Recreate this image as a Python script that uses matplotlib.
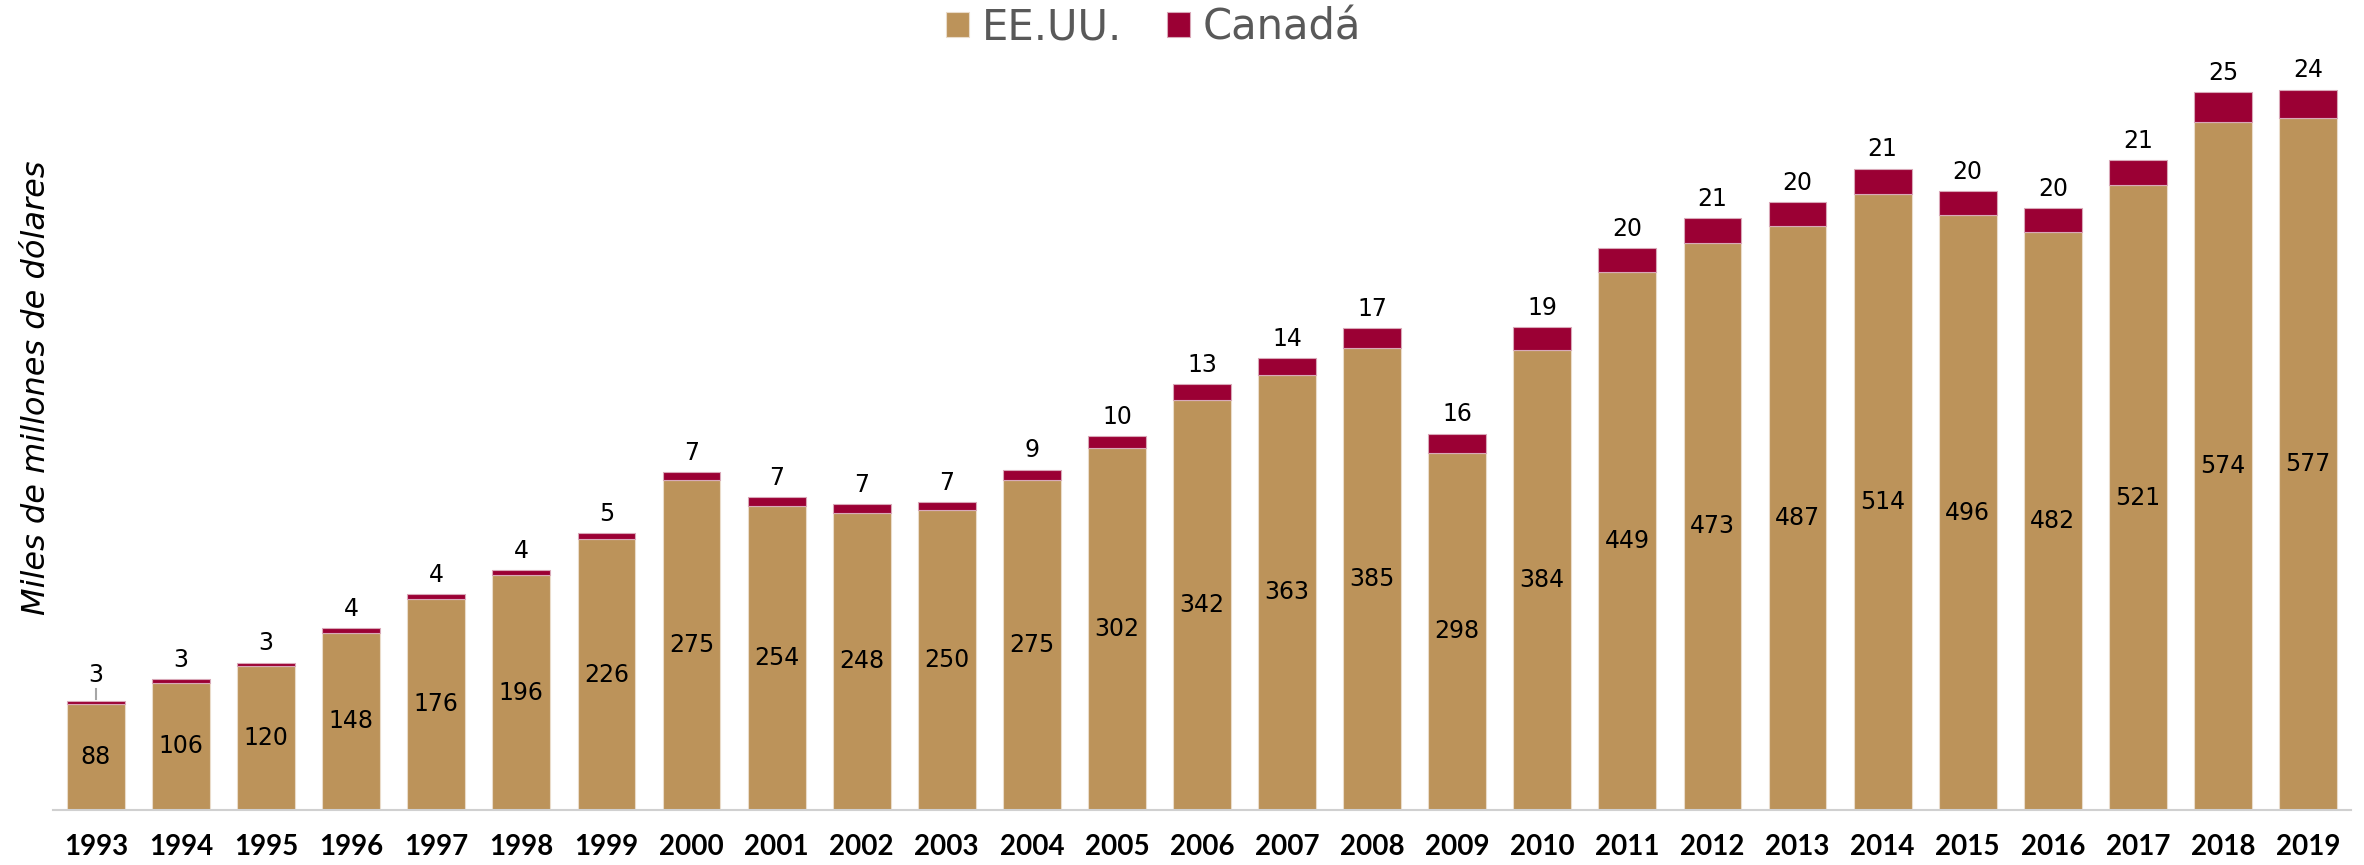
import matplotlib
matplotlib.use("Agg")
import matplotlib.pyplot as plt
import numpy as np

years = [str(y) for y in range(1993, 2020)]
usa = [88, 106, 120, 148, 176, 196, 226, 275, 254, 248, 250, 275, 302, 342,
       363, 385, 298, 384, 449, 473, 487, 514, 496, 482, 521, 574, 577]
canada = [3, 3, 3, 4, 4, 4, 5, 7, 7, 7, 7, 9, 10, 13,
          14, 17, 16, 19, 20, 21, 20, 21, 20, 20, 21, 25, 24]

c_usa = "#BC935A"
c_can = "#9B0034"

plt.rcParams["font.family"] = ["DejaVu Sans"]

fig = plt.figure(figsize=(23.64, 8.65), dpi=100)
ax = fig.add_axes([0.0226, 0.0636, 0.9717, 0.8786])

x = np.arange(len(years))
usa_a = np.array(usa)
can_a = np.array(canada)
b1 = ax.bar(x, usa_a, width=0.68, color=c_usa, edgecolor="#eadccb", linewidth=0.8, label="EE.UU.")
b2 = ax.bar(x, can_a, width=0.68, bottom=usa_a, color=c_can, edgecolor="#d9a8b8", linewidth=0.8, label="Canadá")

# values inside the US segment
for xi, v in zip(x, usa_a):
    ax.text(xi, v / 2, str(v), ha="center", va="center", fontsize=17, color="black")

# Canada values above the bar
for xi, u, c in zip(x, usa_a, can_a):
    top = u + c
    if xi == 0:
        ax.plot([xi, xi], [top + 2, top + 10], color="#a6a6a6", lw=1.5)
        ax.text(xi, top + 12, str(c), ha="center", va="bottom", fontsize=17, color="black")
    else:
        ax.text(xi, top + 6, str(c), ha="center", va="bottom", fontsize=17, color="black")

ax.set_xlim(-0.5, len(years) - 0.5)
ax.set_ylim(0, 634)
ax.set_xticks(x)
ax.set_xticklabels(years, fontsize=20, fontweight="bold", family=["Lato", "DejaVu Sans"])
ax.tick_params(axis="x", length=0, pad=17)
ax.set_yticks([])
for s in ["top", "right", "left"]:
    ax.spines[s].set_visible(False)
ax.spines["bottom"].set_color("#d0d0d0")
ax.spines["bottom"].set_linewidth(1.5)
ax.patch.set_alpha(0)

fig.text(0.0155, 0.552, "Miles de millones de dólares", rotation=90, ha="center", va="center",
         fontsize=23, style="italic")

fig.legend(handles=[b1, b2], labels=["EE.UU.", "Canadá"], loc="center",
           bbox_to_anchor=(0.488, 0.968), ncol=2, frameon=False, fontsize=30,
           labelcolor="#595959", handlelength=0.55, handleheight=0.55,
           handletextpad=0.3, columnspacing=1.1)

fig.savefig("out.png", dpi=100)
